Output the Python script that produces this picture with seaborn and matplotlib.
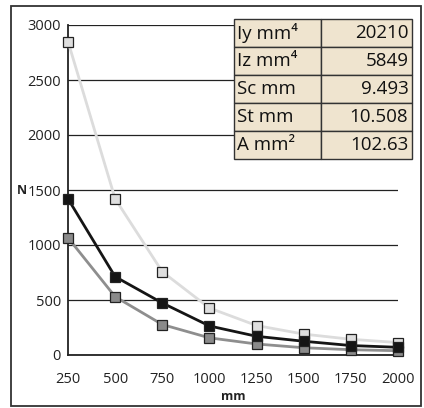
import matplotlib
matplotlib.use("Agg")
import matplotlib.pyplot as plt
from matplotlib.patches import Rectangle
import seaborn as sns
import pandas as pd

# données
longueur = [250, 500, 750, 1000, 1250, 1500, 1750, 2000]
serie_claire = [2850, 1420, 757, 427, 268, 190, 143, 113]
serie_grise = [1066, 530, 277, 156, 100, 66, 48, 39]
serie_noire = [1420, 712, 473, 264, 170, 125, 86, 70]
y_ticks = [0, 500, 1000, 1500, 2000, 2500, 3000]

props_labels = ["Iy mm\u2074", "Iz mm\u2074", "Sc mm", "St mm", "A mm\u00b2"]
props_values = ["20210", "5849", "9.493", "10.508", "102.63"]

sns.set_style("white")
plt.rcParams["font.family"] = ["Open Sans", "DejaVu Sans"]

fig = plt.figure(figsize=(4.24, 4.08), dpi=100)
ax = fig.add_axes([68 / 424, 53 / 408, 330 / 424, 330 / 408])

df = pd.DataFrame({
    "mm": longueur * 3,
    "N": serie_claire + serie_grise + serie_noire,
    "serie": ["claire"] * 8 + ["grise"] * 8 + ["noire"] * 8,
})

styles = {
    "claire": dict(line="#dcdcdc", face="#dedede"),
    "grise": dict(line="#8e8e8e", face="#8a8a8a"),
    "noire": dict(line="#151515", face="#151515"),
}
for i, (nom, st) in enumerate(styles.items()):
    sub = df[df["serie"] == nom]
    sns.lineplot(data=sub, x="mm", y="N", ax=ax, color=st["line"], lw=2.0,
                 marker="s", markersize=7, markerfacecolor=st["face"],
                 markeredgecolor="#222222", markeredgewidth=0.9,
                 clip_on=False, zorder=3 + i)

ax.set_xlim(250, 2000)
ax.set_ylim(0, 3000)
ax.set_xticks(longueur)
ax.set_yticks(y_ticks)
ax.yaxis.grid(True, color="#222222", lw=0.9)
ax.xaxis.grid(False)
ax.set_axisbelow(True)
for s in ["top", "right"]:
    ax.spines[s].set_visible(False)
for s in ["left", "bottom"]:
    ax.spines[s].set_color("#222222")
    ax.spines[s].set_linewidth(1.3)
ax.tick_params(axis="x", direction="in", length=7, width=1, color="#222222",
               pad=12, labelsize=10.5, labelcolor="#222222")
ax.tick_params(axis="y", length=0, pad=5, labelsize=10.5, labelcolor="#222222")
ax.set_xlabel("")
ax.set_ylabel("")

fig.text((68 + 165) / 424, 12 / 408, "mm", fontsize=9, fontweight="bold",
         ha="center", va="center", color="#222222")
fig.text(22 / 424, (408 - 190) / 408, "N", fontsize=9, fontweight="bold",
         ha="center", va="center", color="#222222")

# tableau des propriétés
tab = ax.table(cellText=[[a, b] for a, b in zip(props_labels, props_values)],
               cellLoc="left", colWidths=[0.49, 0.51],
               bbox=[(234 - 68) / 330, (355 - 159) / 330, 178 / 330, 140 / 330])
tab.auto_set_font_size(False)
for (r, c), cell in tab.get_celld().items():
    cell.set_facecolor("#efe4cf")
    cell.set_edgecolor("#333333")
    cell.set_linewidth(1.0)
    cell.get_text().set_fontsize(13.5)
    cell.get_text().set_color("#111111")
    if c == 1:
        cell.get_text().set_ha("right")
        cell.PAD = 0.04
    else:
        cell.PAD = 0.03
tab.set_zorder(10)

# cadre extérieur
fig.patches.append(Rectangle((11 / 424, 2 / 408), 410 / 424, 400 / 408,
                             transform=fig.transFigure, fill=False,
                             edgecolor="#333333", lw=1.3))

fig.savefig("out.png", dpi=100)
